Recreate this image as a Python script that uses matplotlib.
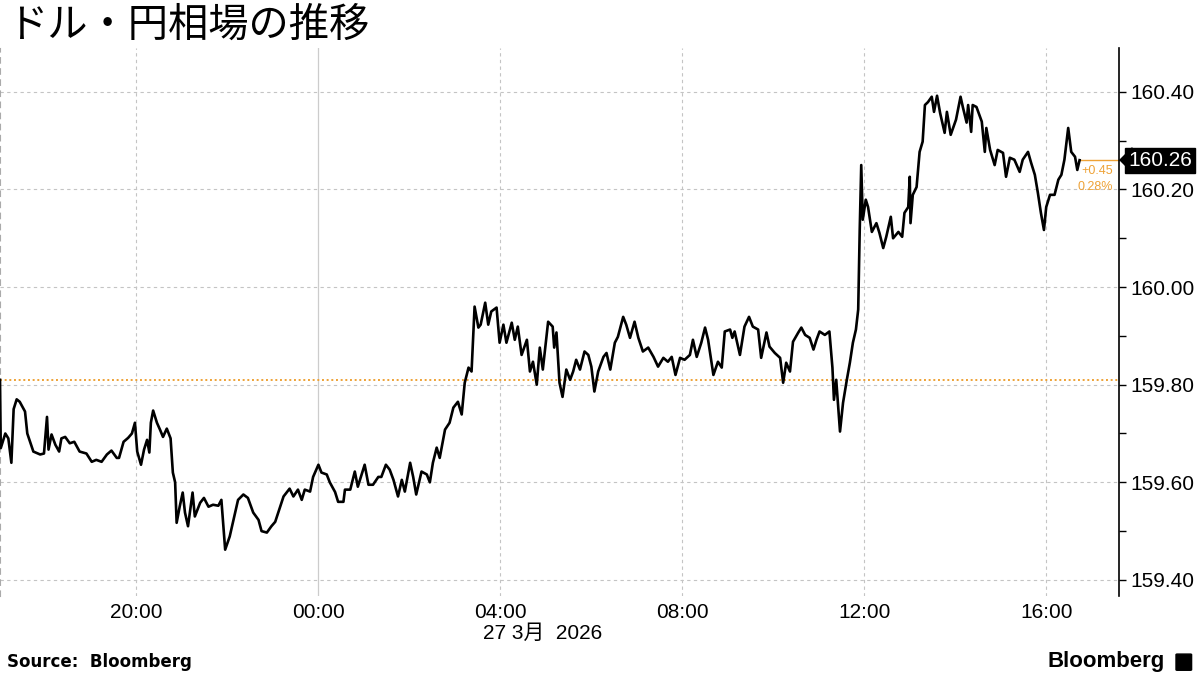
import matplotlib.pyplot as plt
import matplotlib.dates as mdates
import matplotlib.ticker as mticker
import pandas as pd
from matplotlib.patches import FancyBboxPatch

plt.rcParams['font.family'] = ['Liberation Sans', 'Noto Sans CJK JP']

# minutes after 2026-03-26 17:00 and USD/JPY price
start = pd.Timestamp("2026-03-26 17:00")
minutes = [
    0, 1, 7, 11, 15, 18, 22, 26, 33, 36, 44, 53, 58, 62, 64, 68, 73, 78, 81, 86,
    92, 98, 105, 114, 121, 127, 134, 141, 147, 154, 157, 163, 169, 174, 178, 181,
    186, 190, 194, 197, 199, 202, 207, 211, 215, 220, 225, 228, 231, 233, 237, 241,
    244, 248, 254, 257, 264, 269, 275, 281, 288, 292, 297, 303, 308, 314, 321, 327,
    334, 341, 345, 352, 358, 363,
    374, 382, 387, 393, 398, 402, 409, 413, 420, 424, 431, 435, 442, 446, 453, 455,
    462, 468, 472, 481, 486, 492, 499, 503, 509, 514, 519, 525, 530, 534, 541, 545,
    549, 556, 563, 567, 571, 576, 580, 587, 593, 598, 604, 609, 613, 618, 622, 626,
    631, 634, 640, 644, 648, 655, 659, 664, 668, 675, 679, 683, 688, 695, 699, 703,
    708, 712, 716, 723, 729,
    731, 734, 738, 742, 747, 752, 756, 760, 765, 771, 776, 780, 784, 789, 796, 800,
    805, 811, 815, 822, 826, 831, 837, 842, 848, 855, 862, 868, 875, 881, 886, 891,
    897, 903, 910, 914, 919, 925, 930, 934, 941, 947, 952, 956, 963, 966, 969, 976,
    982, 988, 993, 1000, 1004, 1011, 1015, 1022, 1029, 1033, 1037, 1042, 1046, 1053,
    1057, 1062, 1068, 1073, 1077, 1081, 1088, 1094, 1098,
    1100, 1103, 1108, 1112, 1117, 1121, 1125, 1129, 1132, 1134, 1136, 1138, 1142,
    1145, 1150, 1156, 1160, 1165, 1169, 1175, 1178, 1185, 1190, 1193, 1198, 1200,
    1201, 1204, 1209, 1213, 1217, 1220, 1224, 1229, 1232, 1236, 1240, 1246, 1249,
    1254, 1261, 1267, 1270, 1275, 1277, 1281, 1283, 1288, 1295, 1299, 1301, 1306,
    1312, 1316, 1323, 1327, 1332, 1338, 1345, 1349, 1356, 1360, 1365, 1369, 1373,
    1377, 1380, 1385, 1391, 1396, 1400, 1404, 1409, 1413, 1418, 1421, 1424,
]
prices = [
    159.81, 159.67, 159.70, 159.69, 159.64, 159.75, 159.77, 159.765, 159.745, 159.70,
    159.663, 159.657, 159.659, 159.734, 159.667, 159.698, 159.677, 159.663, 159.69,
    159.693, 159.68, 159.683, 159.663, 159.659, 159.642, 159.646, 159.642, 159.657,
    159.665, 159.65, 159.65, 159.683, 159.691, 159.70, 159.722, 159.663, 159.636,
    159.667, 159.687, 159.661, 159.722, 159.747, 159.722, 159.708, 159.693, 159.71,
    159.69, 159.62, 159.60, 159.517, 159.55, 159.579, 159.538, 159.51, 159.579,
    159.53, 159.558, 159.568, 159.55, 159.554, 159.552, 159.564, 159.462, 159.489,
    159.523, 159.564, 159.575, 159.568, 159.538, 159.523, 159.50, 159.497, 159.51,
    159.519,
    159.571, 159.587, 159.571, 159.585, 159.564, 159.585, 159.581, 159.611, 159.636,
    159.62, 159.616, 159.60, 159.58, 159.56, 159.56, 159.585, 159.585, 159.622,
    159.591, 159.636, 159.595, 159.595, 159.611, 159.611, 159.636, 159.626, 159.605,
    159.571, 159.605, 159.581, 159.64, 159.611, 159.575, 159.622, 159.616, 159.60,
    159.64, 159.671, 159.65, 159.708, 159.722, 159.753, 159.765, 159.739, 159.804,
    159.835, 159.827, 159.96, 159.917, 159.923, 159.968, 159.923, 159.95, 159.958,
    159.886, 159.923, 159.886, 159.927, 159.892, 159.919, 159.861, 159.892, 159.827,
    159.847, 159.80, 159.876, 159.831, 159.929, 159.919,
    159.876, 159.907, 159.804, 159.775, 159.831, 159.81, 159.827, 159.851, 159.831,
    159.868, 159.861, 159.837, 159.786, 159.827, 159.857, 159.865, 159.831, 159.886,
    159.898, 159.939, 159.923, 159.896, 159.929, 159.896, 159.868, 159.876, 159.857,
    159.837, 159.855, 159.847, 159.857, 159.82, 159.855, 159.851, 159.861, 159.892,
    159.857, 159.886, 159.917, 159.892, 159.82, 159.847, 159.835, 159.909, 159.913,
    159.896, 159.909, 159.861, 159.919, 159.939, 159.919, 159.913, 159.855, 159.907,
    159.878, 159.865, 159.855, 159.804, 159.845, 159.827, 159.888, 159.907, 159.917,
    159.902, 159.896, 159.872, 159.892, 159.909, 159.902, 159.909, 159.835,
    159.769, 159.81, 159.704, 159.763, 159.81, 159.845, 159.886, 159.913, 159.954,
    160.117, 160.25, 160.138, 160.179, 160.164, 160.113, 160.131, 160.111, 160.08,
    160.103, 160.144, 160.10, 160.113, 160.103, 160.152, 160.164, 160.226, 160.131,
    160.189, 160.205, 160.277, 160.298, 160.373, 160.379, 160.39, 160.359, 160.392,
    160.357, 160.316, 160.359, 160.312, 160.343, 160.39, 160.369, 160.337, 160.373,
    160.318, 160.373, 160.369, 160.339, 160.277, 160.326, 160.281, 160.25, 160.281,
    160.275, 160.226, 160.265, 160.261, 160.236, 160.261, 160.277, 160.255, 160.23,
    160.193, 160.152, 160.117, 160.164, 160.189, 160.189, 160.22, 160.23, 160.261,
    160.326, 160.277, 160.267, 160.24, 160.26,
]

prev_close = 159.81
last_price = 160.26
change_text = "+0.45"
change_pct_text = "0.28%"
y_ticks = [159.40, 159.60, 159.80, 160.00, 160.20, 160.40]
x_ticks = ["2026-03-26 20:00", "2026-03-27 00:00", "2026-03-27 04:00",
           "2026-03-27 08:00", "2026-03-27 12:00", "2026-03-27 16:00"]
date_label = "27 3月  2026"
title = "ドル・円相場の推移"
orange = '#eea236'

times = start + pd.to_timedelta(minutes, unit="min")
tick_times = pd.to_datetime(x_ticks)
x_end = pd.Timestamp("2026-03-27 17:36")

fig = plt.figure(figsize=(12, 6.75), dpi=100)
ax = fig.add_axes([0.0, 0.117, 0.9325, 0.812])

ax.set_xlim(start, x_end)
ax.set_ylim(159.367, 160.49)

# gridlines
for t in tick_times:
    if t.hour == 0:
        ax.axvline(t, color='#cccccc', lw=0.9, zorder=0)
    else:
        ax.axvline(t, color='#c4c4c4', lw=0.8, ls=(0, (3, 3)), zorder=0)
for y in y_ticks:
    ax.axhline(y, color='#c4c4c4', lw=0.8, ls=(0, (3, 3)), zorder=0)

ax.axhline(prev_close, color=orange, lw=1.4, ls=(0, (1, 1.4)), zorder=1)

ax.plot(times, prices, color='black', lw=1.9, zorder=3)

# last price guide
ax.plot([times[-1], x_end], [last_price, last_price], color=orange, lw=1.0, zorder=2)
ax.annotate(change_text, xy=(1, last_price), xycoords=ax.get_yaxis_transform(),
            xytext=(-4, -8), textcoords='offset points', ha='right', va='center',
            fontsize=9, color=orange)
ax.annotate(change_pct_text, xy=(1, last_price), xycoords=ax.get_yaxis_transform(),
            xytext=(-4, -19), textcoords='offset points', ha='right', va='center',
            fontsize=9, color=orange)

# last price tag on the axis
ax.plot([1.0], [last_price], marker=[(0, 0), (1, 1), (1, -1)], ms=18, color='black',
        transform=ax.get_yaxis_transform(), clip_on=False, zorder=5)
ax.text(1.008, last_price, f"{last_price:.2f}", transform=ax.get_yaxis_transform(),
        ha='left', va='center', fontsize=15, color='white', zorder=6,
        bbox=dict(boxstyle='square,pad=0.15', fc='black', ec='black'))

# axes styling
for side in ['top', 'bottom']:
    ax.spines[side].set_visible(False)
ax.spines['right'].set_color('black')
ax.spines['right'].set_linewidth(1.2)
ax.spines['left'].set_color('#aaaaaa')
ax.spines['left'].set_linestyle((0, (5, 5)))

ax.yaxis.tick_right()
ax.set_yticks(y_ticks)
ax.yaxis.set_major_formatter(mticker.FormatStrFormatter('%.2f'))
ax.yaxis.set_minor_locator(mticker.MultipleLocator(0.1))
ax.tick_params(axis='y', which='both', direction='out', length=5, width=1,
               labelsize=15, pad=3, colors='black')

ax.set_xticks(tick_times)
ax.xaxis.set_major_formatter(mdates.DateFormatter('%H:%M'))
ax.tick_params(axis='x', length=0, labelsize=15, pad=5)

ax.text(pd.Timestamp("2026-03-27 04:56"), -0.069, date_label,
        transform=ax.get_xaxis_transform(), ha='center', va='center', fontsize=15)

fig.text(0.006, 0.962, title, fontsize=29, va='center', ha='left',
         family=['Noto Sans CJK JP'])
fig.text(0.006, 0.019, "Source:  Bloomberg", fontsize=12, fontweight='bold',
         va='center', ha='left', family=['DejaVu Sans'])
fig.text(0.971, 0.02, "Bloomberg", fontsize=16, fontweight='bold',
         va='center', ha='right')
fig.patches.append(FancyBboxPatch((0.981, 0.008), 0.011, 0.022,
                                  boxstyle='round,pad=0.001', fc='black', ec='black',
                                  transform=fig.transFigure))

fig.savefig('out.png', dpi=100)
